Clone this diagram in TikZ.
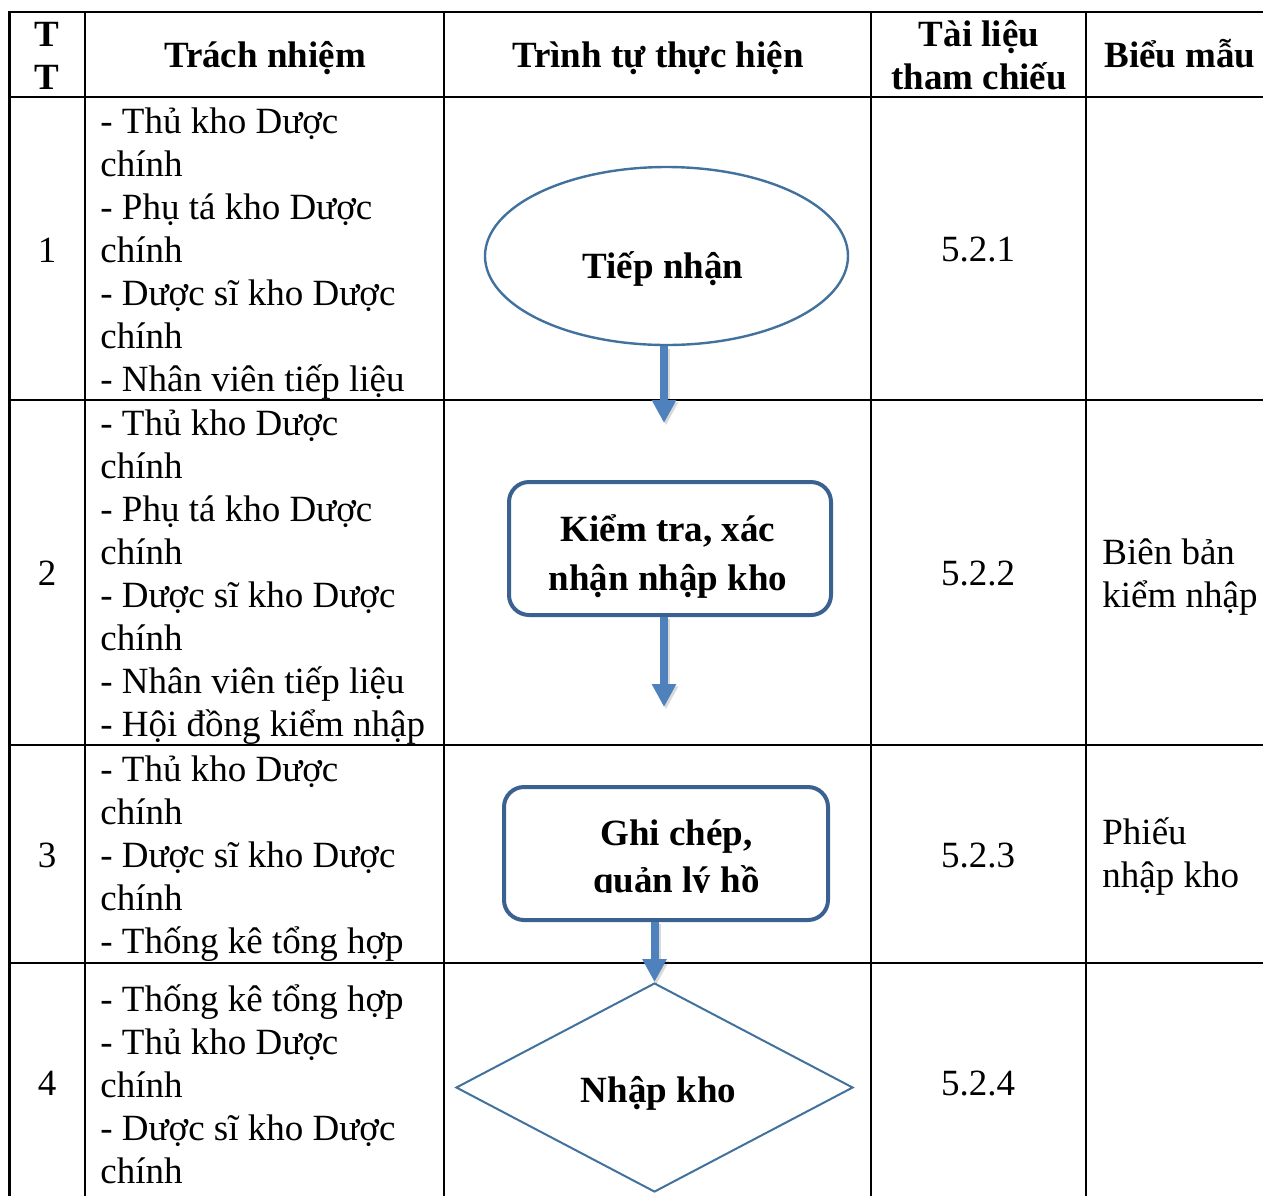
\documentclass[tikz,border=0pt]{standalone}
\usepackage{fontspec}
\setmainfont{Liberation Serif}
\usetikzlibrary{shapes.geometric,arrows.meta}
\definecolor{shapeblue}{HTML}{41719C}
\definecolor{boxblue}{HTML}{3B6190}
\definecolor{arrowblue}{HTML}{4F81BD}
\newcommand{\mycell}[1]{\parbox[t]{180pt}{\fontsize{18.5pt}{21.5pt}\selectfont\lineskiplimit=-30pt\raggedright #1}}
\newcommand{\myhead}[1]{\parbox[t]{110pt}{\fontsize{18.5pt}{21.5pt}\selectfont\bfseries\lineskiplimit=-30pt\centering #1}}
\newcommand{\myshape}[2]{\parbox[t]{160pt}{\fontsize{18.5pt}{#1}\selectfont\bfseries\lineskiplimit=-30pt\centering #2}}
\tikzset{
  tableline/.style={line width=1.25pt, black},
  bodytext/.style={font=\fontsize{18.5pt}{21.5pt}\selectfont, inner sep=0pt},
  headtext/.style={font=\fontsize{18.5pt}{21pt}\selectfont\bfseries, inner sep=0pt},
  cell/.style={inner sep=0pt, anchor=base west},
  flowbox/.style={draw=boxblue, line width=2pt, rounded corners=10pt, inner sep=0pt},
  flowarrow/.style={draw=arrowblue, line width=4pt, -{Triangle[width=11.5pt,length=11.5pt]}},
  arrowshadow/.style={draw=black, line width=4pt, -{Triangle[width=11.5pt,length=11.5pt]}, opacity=0.15, transform canvas={shift={(1pt,-1.2pt)}}},
}
\begin{document}
\begin{tikzpicture}[x=0.5pt,y=-0.5pt]
\useasboundingbox (0,0) rectangle (1263,1196);
% table grid
\draw[tableline] (1263,12) -- (9.5,12) -- (9.5,1196);
\draw[tableline] (9.5,97) -- (1263,97);
\draw[tableline] (9.5,400) -- (1263,400);
\draw[tableline] (9.5,745) -- (1263,745);
\draw[tableline] (9.5,963) -- (1263,963);
\foreach \x in {85,444,871,1086} \draw[tableline] (\x,12) -- (\x,1196);
% header
\node[inner sep=0pt, anchor=base] (hTT) at (47,46) {\myhead{T\\T}};
\node[headtext, anchor=base] (hTN) at (265,67) {Trách nhiệm};
\node[headtext, anchor=base] (hTT2) at (658,67) {Trình tự thực hiện};
\node[inner sep=0pt, anchor=base] (hTL) at (979,46) {\myhead{Tài liệu\\tham chiếu}};
\node[headtext, anchor=base] (hBM) at (1180,67) {Biểu mẫu};
% column 1 numbers
\node[bodytext] (n1) at (47,250) {1};
\node[bodytext] (n2) at (47,573) {2};
\node[bodytext] (n3) at (47,855) {3};
\node[bodytext] (n4) at (47,1083) {4};
% responsibilities
\node[cell] (r1) at (100,133) {\mycell{- Thủ kho Dược\\chính\\- Phụ tá kho Dược\\chính\\- Dược sĩ kho Dược\\chính\\- Nhân viên tiếp liệu}};
\node[cell] (r2) at (100,435) {\mycell{- Thủ kho Dược\\chính\\- Phụ tá kho Dược\\chính\\- Dược sĩ kho Dược\\chính\\- Nhân viên tiếp liệu\\- Hội đồng kiểm nhập}};
\node[cell] (r3) at (100,781) {\mycell{- Thủ kho Dược\\chính\\- Dược sĩ kho Dược\\chính\\- Thống kê tổng hợp}};
\node[cell] (r4) at (100,1011) {\mycell{- Thống kê tổng hợp\\- Thủ kho Dược\\chính\\- Dược sĩ kho Dược\\chính}};
% references
\node[bodytext] (ref1) at (978,250) {5.2.1};
\node[bodytext] (ref2) at (978,573) {5.2.2};
\node[bodytext] (ref3) at (978,855) {5.2.3};
\node[bodytext] (ref4) at (978,1083) {5.2.4};
% forms
\node[cell] (f2) at (1102,564) {\mycell{Biên bản\\kiểm nhập}};
\node[cell] (f3) at (1102,844) {\mycell{Phiếu\\nhập kho}};
% flow shapes
\node[ellipse, draw=shapeblue, line width=1.2pt, minimum width=181.5pt, minimum height=89pt, inner sep=0pt] (ell) at (666.5,256) {};
\node[headtext, anchor=base] (t1) at (663,278) {Tiếp nhận};
\node[flowbox, minimum width=161pt, minimum height=66.5pt] (b2) at (670,548.5) {};
\node[inner sep=0pt, anchor=base] (t2) at (668,541) {\myshape{24.5pt}{Kiểm tra, xác\\nhận nhập kho}};
\node[flowbox, minimum width=162pt, minimum height=66.5pt] (b3) at (666,853.5) {};
\begin{scope}
\clip (500,780) rectangle (835,892.5);
\node[inner sep=0pt, anchor=base] (t3) at (676.5,845) {\myshape{23.5pt}{Ghi chép,\\quản lý hồ}};
\end{scope}
\node[diamond, draw=shapeblue, line width=1pt, shape aspect=1.9, minimum width=198.5pt, minimum height=104.5pt, inner sep=0pt] (dia) at (654.5,1087.5) {};
\node[headtext, anchor=base] (t4) at (658.5,1102) {Nhập kho};
% arrows
\coordinate (tip1) at (664,423);
\coordinate (tip2) at (664,707);
\draw[arrowshadow] (tip1 |- ell.south) -- (tip1);
\draw[arrowshadow] (tip2 |- b2.south) -- (tip2);
\draw[arrowshadow] (dia.north |- b3.south) -- (dia.north);
\draw[flowarrow] (tip1 |- ell.south) -- (tip1);
\draw[flowarrow] (tip2 |- b2.south) -- (tip2);
\draw[flowarrow] (dia.north |- b3.south) -- (dia.north);
\end{tikzpicture}
\end{document}
